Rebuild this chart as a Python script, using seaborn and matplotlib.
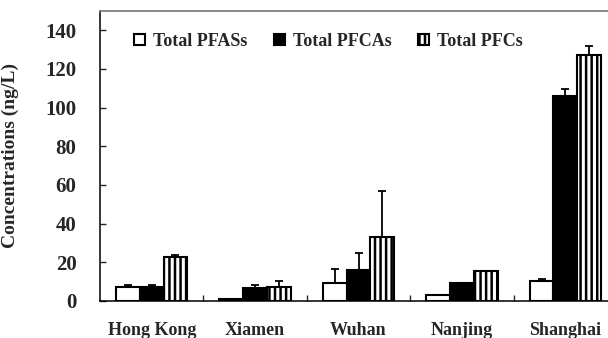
import numpy as np
import pandas as pd
import matplotlib
matplotlib.use("Agg")
import matplotlib.pyplot as plt
import seaborn as sns

# data
cities = ["Hong Kong", "Xiamen", "Wuhan", "Nanjing", "Shanghai"]
series = ["Total PFASs", "Total PFCAs", "Total PFCs"]
pfass = [7.2, 1.2, 9.5, 3.1, 10.5]
pfcas = [7.2, 6.6, 16.0, 9.5, 105.8]
pfcs = [23.0, 7.4, 33.3, 15.7, 127.5]
pfass_err = [1.0, 0.0, 7.0, 0.0, 1.0]
pfcas_err = [1.0, 1.8, 9.0, 0.0, 4.0]
pfcs_err = [1.0, 3.0, 23.7, 0.0, 4.2]
y_ticks = [0, 20, 40, 60, 80, 100, 120, 140]

df = pd.DataFrame({
    "city": cities * 3,
    "group": np.repeat(series, len(cities)),
    "value": pfass + pfcas + pfcs,
})
errors = [pfass_err, pfcas_err, pfcs_err]

sns.set_style("ticks")
plt.rcParams["font.family"] = ["Liberation Serif", "DejaVu Serif"]
plt.rcParams["font.weight"] = "bold"
plt.rcParams["hatch.linewidth"] = 1.8

fig = plt.figure(figsize=(6.08, 3.38), dpi=100)
ax = fig.add_axes([100 / 608, 37 / 338, 517 / 608, 290 / 338])

sns.barplot(data=df, x="city", y="value", hue="group", order=cities,
            hue_order=series, palette=["white", "black", "white"],
            width=0.69, errorbar=None, edgecolor="black", linewidth=1.5,
            ax=ax)

bar_conts = list(ax.containers)
hatches = [None, None, "|||"]
for cont, err, h in zip(bar_conts, errors, hatches):
    xs = [p.get_x() + p.get_width() / 2 for p in cont.patches]
    ys = [p.get_height() for p in cont.patches]
    for p in cont.patches:
        if h:
            p.set_hatch(h)
    # one-sided (upper) error bars
    ax.errorbar(xs, ys, yerr=[np.zeros(len(err)), err], fmt="none",
                ecolor="black", elinewidth=1.3, capsize=3, capthick=1.3,
                zorder=1)

ax.set_xlim(-0.5, 4.5)
ax.set_ylim(0, 150)
ax.set_yticks(y_ticks)
ax.set_xlabel("")
ax.set_ylabel("Concentrations (ng/L)", fontsize=14, fontweight="bold")
ax.yaxis.set_label_coords(-0.157, 0.5)

ax.tick_params(axis="y", direction="in", length=4.5, width=1,
               labelsize=15, pad=17)
ax.tick_params(axis="x", which="major", length=0, labelsize=13, pad=15)
ax.set_xticks([0.5, 1.5, 2.5, 3.5], minor=True)
ax.tick_params(axis="x", which="minor", direction="in", length=4.5, width=1)
for lab in ax.get_xticklabels() + ax.get_yticklabels():
    lab.set_fontweight("bold")

for s in ["left", "bottom"]:
    ax.spines[s].set_color("black")
    ax.spines[s].set_linewidth(1.1)
ax.spines["top"].set_visible(True)
ax.spines["top"].set_color("#808080")
ax.spines["top"].set_linewidth(1.3)

handles = [c.patches[0] for c in bar_conts]
ax.legend(handles, series, loc="center left", bbox_to_anchor=(0.035, 0.895),
          ncol=3, frameon=False, handlelength=0.6, handleheight=0.6,
          handletextpad=0.45, columnspacing=1.45,
          prop={"weight": "bold", "size": 13})

fig.savefig("out.png", dpi=100)
